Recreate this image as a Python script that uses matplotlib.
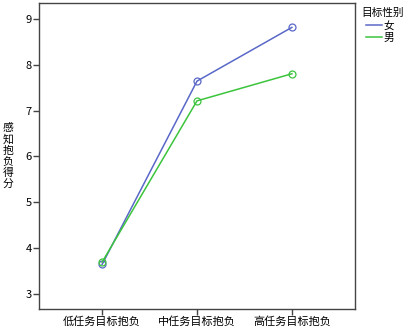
import matplotlib
matplotlib.use('Agg')
import matplotlib.pyplot as plt
from matplotlib.lines import Line2D

plt.rcParams['font.family'] = ['Noto Sans CJK SC', 'DejaVu Sans']

# data
categories = ['低任务目标抱负', '中任务目标抱负', '高任务目标抱负']
female = [3.65, 7.64, 8.81]
male = [3.70, 7.21, 7.80]
yticks = [3, 4, 5, 6, 7, 8, 9]
ylabel = '感知抱负得分'

blue = '#5a68c8'
green = '#3cc43c'

fig = plt.figure(figsize=(4.06, 3.28), dpi=100)
ax = fig.add_axes([39/406, 1 - 309/328, (355-39)/406, (309-3)/328])

x = list(range(len(categories)))
ax.plot(x, female, color=blue, lw=1.1, marker='o', ms=5, mfc='none', mec=blue, mew=0.9)
ax.plot(x, male, color=green, lw=1.1, marker='o', ms=5, mfc='none', mec=green, mew=0.9)

ax.set_xlim(-0.665, 2.665)
ax.set_ylim(2.68, 9.34)
ax.set_xticks(x)
ax.set_xticklabels(categories, fontsize=8)
ax.set_yticks(yticks)
ax.set_yticklabels([str(v) for v in yticks], fontsize=8)
ax.tick_params(direction='out', length=4, width=1, color='#444444', pad=1)
for s in ax.spines.values():
    s.set_color('#444444')
    s.set_linewidth(1)

# stacked vertical y label, one character per row
for i, ch in enumerate(ylabel):
    fig.text(8/406, 1 - (128 + 11.3*i)/328, ch, ha='center', va='center', fontsize=7.8)

fig.text(361/406, 1 - 13/328, '目标性别', ha='left', va='center', fontsize=7.7)
handles = [Line2D([], [], color=blue, lw=1.1), Line2D([], [], color=green, lw=1.1)]
leg = fig.legend(handles, ['女', '男'], loc='upper left', bbox_to_anchor=(366/406, 1 - 21/328),
                 frameon=False, fontsize=7.7, handlelength=1.5, handletextpad=0.1,
                 labelspacing=0.2, borderpad=0, borderaxespad=0)

fig.savefig('out.png', dpi=100)
